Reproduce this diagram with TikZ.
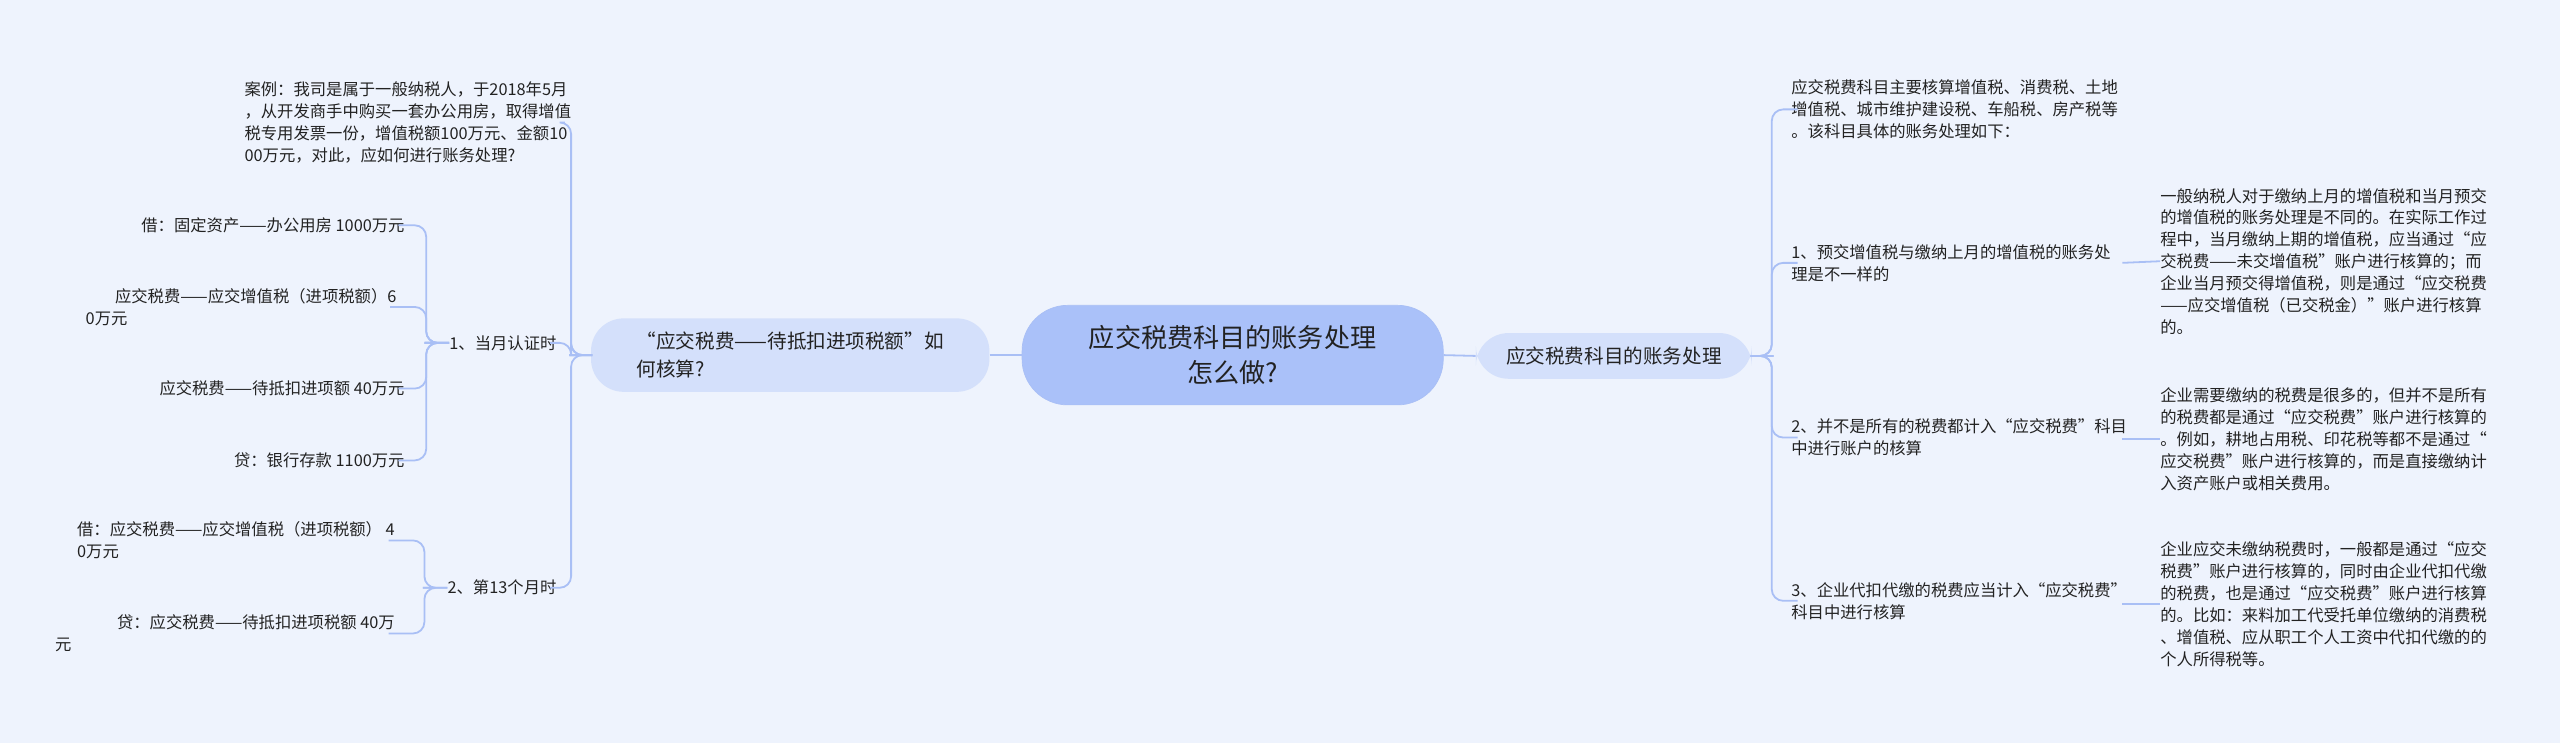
\documentclass[tikz,border=0pt]{standalone}
\usepackage{fontspec}
\setmainfont{Noto Sans CJK SC}
\definecolor{bg}{HTML}{EEF3FD}
\definecolor{ln}{HTML}{A9BFF5}
\definecolor{cfill}{HTML}{AAC1F9}
\definecolor{bfill}{HTML}{D4E0FB}
\definecolor{tx}{HTML}{222222}
\begin{document}
\begin{tikzpicture}[x=1pt,y=-1pt,
  every node/.style={text=tx,inner sep=0pt},
  txt/.style={font=\fontsize{10}{13.4}\selectfont,align=left},
  conn/.style={draw=ln,line width=1.1pt,rounded corners=7pt},
  centre/.style={fill=cfill,draw=ln,rounded corners=28pt,minimum width=258pt,minimum height=61pt,align=center,font=\fontsize{16}{21}\selectfont},
  branch/.style={fill=bfill,rounded corners=20pt,align=left,font=\fontsize{12}{17}\selectfont}]
\fill[bg] (0,0) rectangle (1568,455);
\useasboundingbox (0,0) rectangle (1568,455);

\node[centre] (c) at (755,217.5) {应交税费科目的账务处理\\怎么做?};
\node[branch,minimum width=244pt,minimum height=45pt] (l) at (484,217.5) {“应交税费——待抵扣进项税额”如\\何核算?};
\node[branch,minimum width=169pt,minimum height=28pt,align=center] (r) at (988.5,218) {应交税费科目的账务处理};

% left subtree
\node[txt,anchor=east] (case) at (350,75) {案例：我司是属于一般纳税人，于2018年5月\\，从开发商手中购买一套办公用房，取得增值\\税专用发票一份，增值税额100万元、金额10\\00万元，对此，应如何进行账务处理?};
\node[txt,anchor=east] (m1) at (341,210) {1、当月认证时};
\node[txt,anchor=east] (m2) at (341,360) {2、第13个月时};
\node[txt,anchor=east] (a1) at (248,138) {借：固定资产——办公用房 1000万元};
\node[txt,anchor=east] (a2) at (243,188) {\hspace*{18pt}应交税费——应交增值税（进项税额）6\\0万元};
\node[txt,anchor=east] (a3) at (248,238) {应交税费——待抵扣进项额 40万元};
\node[txt,anchor=east] (a4) at (248,282) {贷：银行存款 1100万元};
\node[txt,anchor=east] (b1) at (242,331) {借：应交税费——应交增值税（进项税额） 4\\0万元};
\node[txt,anchor=east] (b2) at (242,388) {\hspace*{38pt}贷：应交税费——待抵扣进项税额 40万\\元};

\foreach \n in {case,m1,m2} \draw[conn] (l.west) -- ++(-6,0) -- ++(-6,0) |- ([xshift=-4pt]\n.east);
\foreach \n in {a1,a2,a3,a4} \draw[conn] (m1.west) -- ++(-8,0) -- ++(-6,0) |- ([xshift=-4pt]\n.east);
\foreach \n in {b1,b2} \draw[conn] (m2.west) -- ++(-8,0) -- ++(-6,0) |- ([xshift=-4pt]\n.east);
\draw[conn] (l.east) -- (c.west);
\draw[conn] (c.east) -- (r.west);

% right subtree
\node[txt,anchor=west] (intro) at (1097,67) {应交税费科目主要核算增值税、消费税、土地\\增值税、城市维护建设税、车船税、房产税等\\。该科目具体的账务处理如下：};
\node[txt,anchor=west] (p1) at (1097,161) {1、预交增值税与缴纳上月的增值税的账务处\\理是不一样的};
\node[txt,anchor=west] (p2) at (1097,268) {2、并不是所有的税费都计入“应交税费”科目\\中进行账户的核算};
\node[txt,anchor=west] (p3) at (1097,368) {3、企业代扣代缴的税费应当计入“应交税费”\\科目中进行核算};
\node[txt,anchor=west] (d1) at (1323,160) {一般纳税人对于缴纳上月的增值税和当月预交\\的增值税的账务处理是不同的。在实际工作过\\程中，当月缴纳上期的增值税，应当通过“应\\交税费——未交增值税”账户进行核算的；而\\企业当月预交得增值税，则是通过“应交税费\\——应交增值税（已交税金）”账户进行核算\\的。};
\node[txt,anchor=west] (d2) at (1323,269) {企业需要缴纳的税费是很多的，但并不是所有\\的税费都是通过“应交税费”账户进行核算的\\。例如，耕地占用税、印花税等都不是通过“\\应交税费”账户进行核算的，而是直接缴纳计\\入资产账户或相关费用。};
\node[txt,anchor=west] (d3) at (1323,370) {企业应交未缴纳税费时，一般都是通过“应交\\税费”账户进行核算的，同时由企业代扣代缴\\的税费，也是通过“应交税费”账户进行核算\\的。比如：来料加工代受托单位缴纳的消费税\\、增值税、应从职工个人工资中代扣代缴的的\\个人所得税等。};

\foreach \n in {intro,p1,p2,p3} \draw[conn] (r.east) -- ++(6,0) -- ++(6,0) |- ([xshift=4pt]\n.west);
\draw[conn] (1300,161) -- (d1.west);
\draw[conn] (1300,269) -- (d2.west);
\draw[conn] (1300,370) -- (d3.west);
\end{tikzpicture}
\end{document}
